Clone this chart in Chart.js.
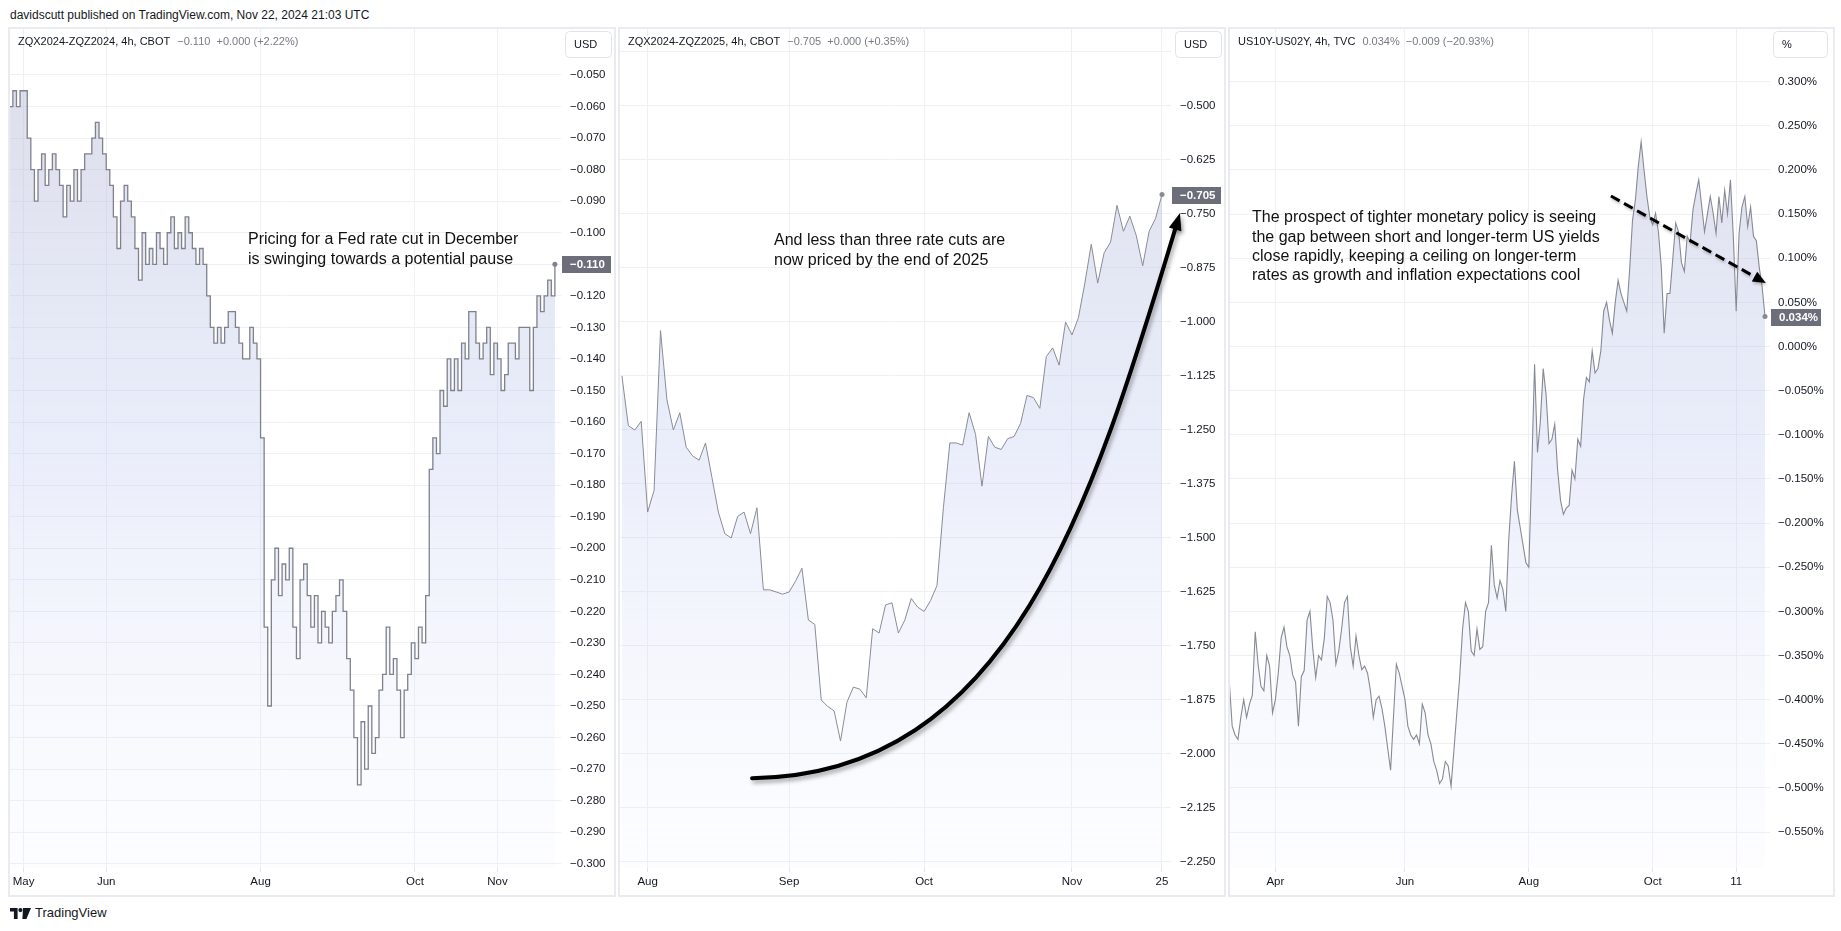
<!DOCTYPE html>
<html>
<head>
<meta charset="utf-8">
<script src="https://cdn.jsdelivr.net/npm/chart.js@4.4.1/dist/chart.umd.min.js"></script>
<style>
  body { margin: 0; background: #fff; width: 1841px; height: 931px; position: relative; overflow: hidden;
         font-family: "Liberation Sans", Arial, sans-serif; color: #131722; }
  #byline { position: absolute; left: 10px; top: 8px; font-size: 12px; line-height: 14px; }
  .pane { position: absolute; top: 27px; border: 2px solid #e9ebf0; }
  .pane canvas { display: block; }
  #logo { position: absolute; left: 10px; top: 905px; display: flex; align-items: center; gap: 4px;
          font-size: 13px; line-height: 16px; }
</style>
</head>
<body>
<div id="byline">davidscutt published on TradingView.com, Nov 22, 2024 21:03 UTC</div>

<div class="pane" style="left:8px"><canvas id="pane1" width="604" height="866"></canvas></div>
<div class="pane" style="left:618px"><canvas id="pane2" width="604" height="866"></canvas></div>
<div class="pane" style="left:1228px"><canvas id="pane3" width="603" height="866"></canvas></div>

<div id="logo">
  <svg width="21" height="11" viewBox="0 0 21 11">
    <path d="M0 0h7.6v11H3.9V3.6H0z" fill="#131722"/>
    <circle cx="10.4" cy="2.1" r="2.1" fill="#131722"/>
    <path d="M13 0h8l-4.6 11h-4z" fill="#131722"/>
  </svg>
  <span>TradingView</span>
</div>

<script>
const FONT = '"Liberation Sans", Arial, sans-serif';
const textColor = '#131722';
const gridColor = '#eef0f4';

// ZQX2024-ZQZ2024, one value per trading day (late Apr .. Nov 22)
const p1Values = [
  -0.060, -0.055, -0.060, -0.055, -0.055, -0.070, -0.080, -0.090, -0.080, -0.075,
  -0.085, -0.080, -0.075, -0.080, -0.085, -0.095, -0.085, -0.090, -0.080, -0.090,
  -0.080, -0.075, -0.075, -0.070, -0.065, -0.070, -0.075, -0.080, -0.085, -0.095,
  -0.105, -0.090, -0.085, -0.090, -0.095, -0.105, -0.115, -0.100, -0.110, -0.105,
  -0.110, -0.100, -0.105, -0.110, -0.100, -0.095, -0.105, -0.100, -0.105, -0.095,
  -0.100, -0.105, -0.110, -0.105, -0.110, -0.120, -0.130, -0.135, -0.130, -0.135,
  -0.130, -0.125, -0.125, -0.130, -0.135, -0.140, -0.140, -0.130, -0.135, -0.140,
  -0.165, -0.225, -0.250, -0.210, -0.200, -0.215, -0.205, -0.210, -0.200, -0.225,
  -0.235, -0.210, -0.205, -0.215, -0.225, -0.215, -0.230, -0.220, -0.225, -0.230,
  -0.220, -0.215, -0.210, -0.220, -0.235, -0.245, -0.260, -0.275, -0.255, -0.270,
  -0.250, -0.265, -0.260, -0.245, -0.240, -0.225, -0.240, -0.235, -0.245, -0.260,
  -0.245, -0.240, -0.230, -0.235, -0.225, -0.230, -0.215, -0.175, -0.165, -0.170,
  -0.150, -0.155, -0.140, -0.150, -0.140, -0.150, -0.135, -0.140, -0.125, -0.125,
  -0.135, -0.140, -0.135, -0.130, -0.145, -0.135, -0.140, -0.150, -0.145, -0.135,
  -0.135, -0.140, -0.130, -0.130, -0.130, -0.150, -0.130, -0.120, -0.125, -0.120,
  -0.115, -0.120, -0.110
];
const p1TickText = ['May', 'Jun', 'Aug', 'Oct', 'Nov'];
const p1TickAt = [4, 27, 70, 113, 136];
const p1YTicks = [-0.050, -0.060, -0.070, -0.080, -0.090, -0.100, -0.110, -0.120, -0.130, -0.140,
  -0.150, -0.160, -0.170, -0.180, -0.190, -0.200, -0.210, -0.220, -0.230, -0.240,
  -0.250, -0.260, -0.270, -0.280, -0.290, -0.300];

// ZQX2024-ZQZ2025, one value per trading day (late Jul .. Nov 22)
const p2Values = [
  -1.125, -1.240, -1.250, -1.230, -1.440, -1.390, -1.020, -1.180, -1.250, -1.210,
  -1.290, -1.310, -1.320, -1.280, -1.360, -1.440, -1.490, -1.500, -1.450, -1.440,
  -1.490, -1.430, -1.620, -1.620, -1.625, -1.630, -1.625, -1.600, -1.570, -1.690,
  -1.700, -1.875, -1.890, -1.900, -1.970, -1.880, -1.845, -1.850, -1.870, -1.710,
  -1.720, -1.655, -1.650, -1.720, -1.690, -1.640, -1.660, -1.670, -1.645, -1.610,
  -1.430, -1.280, -1.280, -1.285, -1.210, -1.260, -1.380, -1.265, -1.290, -1.295,
  -1.270, -1.265, -1.235, -1.170, -1.175, -1.200, -1.080, -1.060, -1.100, -1.000,
  -1.030, -0.990, -0.910, -0.820, -0.910, -0.840, -0.815, -0.730, -0.790, -0.755,
  -0.800, -0.870, -0.790, -0.760, -0.705
];
const p2TickText = ['Aug', 'Sep', 'Oct', 'Nov', '25'];
const p2TickAt = [4, 26, 47, 70, 84];
const p2YTicks = [-0.375, -0.500, -0.625, -0.750, -0.875, -1.000, -1.125, -1.250, -1.375, -1.500,
  -1.625, -1.750, -1.875, -2.000, -2.125, -2.250];
const p2GridOnly = [-0.375];

// US10Y-US02Y, one value per trading day (early Mar .. Nov 22)
const p3Values = [
  -0.380, -0.430, -0.440, -0.445, -0.420, -0.400, -0.420, -0.405, -0.395, -0.323,
  -0.360, -0.385, -0.390, -0.350, -0.362, -0.415, -0.400, -0.370, -0.330, -0.318,
  -0.340, -0.350, -0.372, -0.380, -0.430, -0.374, -0.367, -0.310, -0.300, -0.343,
  -0.375, -0.350, -0.355, -0.330, -0.283, -0.290, -0.310, -0.360, -0.345, -0.320,
  -0.290, -0.283, -0.340, -0.362, -0.328, -0.350, -0.366, -0.362, -0.370, -0.390,
  -0.420, -0.400, -0.396, -0.410, -0.430, -0.455, -0.480, -0.420, -0.360, -0.370,
  -0.385, -0.400, -0.430, -0.440, -0.445, -0.440, -0.450, -0.405, -0.415, -0.440,
  -0.450, -0.470, -0.480, -0.495, -0.490, -0.470, -0.475, -0.498, -0.457, -0.415,
  -0.374, -0.320, -0.290, -0.300, -0.345, -0.350, -0.320, -0.343, -0.340, -0.300,
  -0.290, -0.225, -0.270, -0.285, -0.265, -0.275, -0.300, -0.220, -0.170, -0.130,
  -0.185, -0.205, -0.225, -0.245, -0.250, -0.140, -0.020, -0.120, -0.085, -0.025,
  -0.055, -0.110, -0.105, -0.088, -0.140, -0.174, -0.190, -0.183, -0.180, -0.140,
  -0.150, -0.105, -0.113, -0.060, -0.035, -0.040, -0.005, -0.030, -0.025, -0.005,
  0.040, 0.050, 0.030, 0.015, 0.050, 0.075, 0.060, 0.050, 0.040, 0.087,
  0.143, 0.166, 0.204, 0.232, 0.200, 0.170, 0.147, 0.138, 0.151, 0.130,
  0.090, 0.015, 0.060, 0.060, 0.100, 0.140, 0.130, 0.095, 0.085, 0.125,
  0.118, 0.155, 0.173, 0.189, 0.160, 0.130, 0.150, 0.170, 0.151, 0.128,
  0.170, 0.140, 0.177, 0.150, 0.189, 0.125, 0.040, 0.128, 0.158, 0.170,
  0.136, 0.158, 0.125, 0.120, 0.090, 0.068, 0.034
];
const p3TickText = ['Apr', 'Jun', 'Aug', 'Oct', '11'];
const p3TickAt = [16, 61, 104, 147, 176];
const p3YTicks = [0.300, 0.250, 0.200, 0.150, 0.100, 0.050, 0.000, -0.050, -0.100, -0.150,
  -0.200, -0.250, -0.300, -0.350, -0.400, -0.450, -0.500, -0.550];

// hand drawn arrows, in data units (bar index, value)
const p2CurveArrow = [[20.24, -2.056], [60.4, -2.049], [73.6, -1.40], [86.8, -0.748]];
const p3DashArrow = [[132.5, 0.1705], [186.3, 0.072]];

function fmt(v, pct) {
  const s = (v < -1e-9 ? '\u2212' : '') + Math.abs(v).toFixed(3);
  return pct ? s + '%' : s;
}

function areaFill(context) {
  const chart = context.chart;
  const area = chart.chartArea;
  if (!area) return 'rgba(0,0,0,0)';
  const g = chart.ctx.createLinearGradient(0, area.top, 0, area.bottom);
  g.addColorStop(0, 'rgba(176,180,204,0.46)');
  g.addColorStop(0.5, 'rgba(190,200,240,0.33)');
  g.addColorStop(1, 'rgba(235,238,255,0.12)');
  return g;
}

function arrowHead(ctx, from, tip, len, half) {
  const dx = tip[0] - from[0], dy = tip[1] - from[1];
  const d = Math.hypot(dx, dy);
  const ux = dx / d, uy = dy / d;
  const bx = tip[0] - ux * len, by = tip[1] - uy * len;
  ctx.beginPath();
  ctx.moveTo(tip[0], tip[1]);
  ctx.lineTo(bx - uy * half, by + ux * half);
  ctx.lineTo(bx + uy * half, by - ux * half);
  ctx.closePath();
  ctx.fill();
}

function makeOverlay(cfg) {
  return {
    id: 'tvOverlay',
    afterDraw(chart) {
      const { ctx, chartArea: ca } = chart;
      const xs = chart.scales.x, ys = chart.scales.y;
      const px = ([a, b]) => [xs.getPixelForValue(a), ys.getPixelForValue(b)];
      ctx.save();
      ctx.textBaseline = 'middle';

      // symbol legend
      ctx.font = '11px ' + FONT;
      ctx.fillStyle = textColor;
      ctx.fillText(cfg.symbol, 8, 13);
      ctx.fillStyle = '#787b86';
      ctx.fillText(cfg.quote, 8 + ctx.measureText(cfg.symbol).width + 7, 13);

      // currency button
      const bx = ca.right + cfg.unitGap;
      ctx.strokeStyle = '#e0e3eb';
      ctx.lineWidth = 1;
      ctx.beginPath();
      ctx.roundRect(bx + 0.5, 2.5, cfg.unitW, 26, 4);
      ctx.stroke();
      ctx.fillStyle = textColor;
      ctx.font = '11px ' + FONT;
      ctx.fillText(cfg.unit, bx + 9, 15.5);

      // last value tag
      const last = cfg.values[cfg.values.length - 1];
      const yy = ys.getPixelForValue(last);
      ctx.fillStyle = '#6c6f7a';
      ctx.fillRect(ca.right + 1, Math.round(yy) - 8, cfg.tagW, 17);
      ctx.fillStyle = '#fff';
      ctx.font = 'bold 11.5px ' + FONT;
      ctx.fillText(fmt(last, cfg.pct), ca.right + 9, Math.round(yy) + 0.5);

      // annotation text
      ctx.fillStyle = '#111';
      ctx.font = '16px ' + FONT;
      cfg.note.forEach((line, k) => ctx.fillText(line, cfg.noteAt[0], cfg.noteAt[1] + k * 19.3));

      // curved arrow
      if (cfg.curve) {
        const p = cfg.curve.map(px);
        const dx = p[3][0] - p[2][0], dy = p[3][1] - p[2][1], d = Math.hypot(dx, dy);
        const end = [p[3][0] - dx / d * 12, p[3][1] - dy / d * 12];
        const c2 = [p[2][0] - dx / d * 12, p[2][1] - dy / d * 12];
        ctx.shadowColor = 'rgba(0,0,0,0.35)';
        ctx.shadowBlur = 4;
        ctx.shadowOffsetX = 2;
        ctx.shadowOffsetY = 3;
        ctx.strokeStyle = '#000';
        ctx.fillStyle = '#000';
        ctx.lineWidth = 4;
        ctx.lineCap = 'round';
        ctx.beginPath();
        ctx.moveTo(p[0][0], p[0][1]);
        ctx.bezierCurveTo(p[1][0], p[1][1], c2[0], c2[1], end[0], end[1]);
        ctx.stroke();
        arrowHead(ctx, p[2], p[3], 17, 6.5);
      }

      // dashed arrow
      if (cfg.dash) {
        const [a, b] = cfg.dash.map(px);
        const dx = b[0] - a[0], dy = b[1] - a[1], d = Math.hypot(dx, dy);
        ctx.shadowColor = 'rgba(0,0,0,0.25)';
        ctx.shadowBlur = 3;
        ctx.shadowOffsetX = 1;
        ctx.shadowOffsetY = 2;
        ctx.strokeStyle = '#000';
        ctx.fillStyle = '#000';
        ctx.lineWidth = 3;
        ctx.setLineDash([10, 5]);
        ctx.beginPath();
        ctx.moveTo(a[0], a[1]);
        ctx.lineTo(b[0] - dx / d * 10, b[1] - dy / d * 10);
        ctx.stroke();
        ctx.setLineDash([]);
        arrowHead(ctx, a, b, 13, 5.5);
      }
      ctx.restore();
    }
  };
}

function makePane(id, cfg) {
  const n = cfg.values.length;
  new Chart(document.getElementById(id), {
    type: 'line',
    data: {
      datasets: [{
        data: cfg.values.map((v, i) => ({ x: i, y: v })),
        borderColor: cfg.lineColor,
        borderWidth: cfg.lineWidth,
        stepped: cfg.stepped,
        tension: 0,
        fill: 'start',
        backgroundColor: areaFill,
        pointRadius: c => (c.dataIndex === n - 1 ? 2.5 : 0),
        pointBackgroundColor: cfg.lineColor,
        pointBorderWidth: 0,
        pointHoverRadius: 0
      }]
    },
    options: {
      responsive: false,
      animation: false,
      events: [],
      layout: { padding: 0, autoPadding: false },
      plugins: { legend: { display: false }, tooltip: { enabled: false } },
      scales: {
        x: {
          type: 'linear',
          bounds: 'data',
          min: cfg.xRange[0],
          max: cfg.xRange[1],
          afterBuildTicks: s => { s.ticks = cfg.tickAt.map(v => ({ value: v })); },
          afterFit: s => { s.height = 27; s.paddingLeft = 0; s.paddingRight = 0; },
          ticks: {
            autoSkip: false,
            maxRotation: 0,
            padding: 3,
            color: textColor,
            font: { family: FONT, size: 11.5 },
            callback: (v, i) => cfg.tickText[i]
          },
          grid: { color: gridColor, tickColor: '#e0e3eb', tickLength: 4 },
          border: { display: false }
        },
        y: {
          type: 'linear',
          position: 'right',
          bounds: 'data',
          min: cfg.yRange[0],
          max: cfg.yRange[1],
          afterBuildTicks: s => { s.ticks = cfg.yTicks.map(v => ({ value: v })); },
          afterFit: s => { s.width = cfg.axisW; s.paddingTop = 0; s.paddingBottom = 0; },
          ticks: {
            autoSkip: false,
            padding: cfg.labelPad,
            color: textColor,
            font: { family: FONT, size: 11.5 },
            callback: v => ((cfg.gridOnly || []).includes(v) ? '' : fmt(v, cfg.pct))
          },
          grid: { color: gridColor, drawTicks: false },
          border: { display: false }
        }
      }
    },
    plugins: [makeOverlay(cfg)]
  });
}

makePane('pane1', {
  values: p1Values, tickText: p1TickText, tickAt: p1TickAt, yTicks: p1YTicks,
  xRange: [0.2, 153.7], yRange: [-0.30135, -0.03542],
  lineColor: '#7f828c', lineWidth: 1.3, stepped: true,
  axisW: 53, labelPad: 9, pct: false,
  symbol: 'ZQX2024-ZQZ2024, 4h, CBOT', quote: '\u22120.110  +0.000 (+2.22%)',
  unit: 'USD', unitGap: 4, unitW: 46, tagW: 49,
  note: ['Pricing for a Fed rate cut in December', 'is swinging towards a potential pause'],
  noteAt: [238, 211]
});

makePane('pane2', {
  values: p2Values, tickText: p2TickText, tickAt: p2TickAt, yTicks: p2YTicks, gridOnly: p2GridOnly,
  xRange: [-0.3, 85.4], yRange: [-2.2639, -0.3218],
  lineColor: '#898c96', lineWidth: 1, stepped: false,
  axisW: 53, labelPad: 9, pct: false,
  symbol: 'ZQX2024-ZQZ2025, 4h, CBOT', quote: '\u22120.705  +0.000 (+0.35%)',
  unit: 'USD', unitGap: 4, unitW: 46, tagW: 49,
  note: ['And less than three rate cuts are', 'now priced by the end of 2025'],
  noteAt: [154, 212],
  curve: p2CurveArrow
});

makePane('pane3', {
  values: p3Values, tickText: p3TickText, tickAt: p3TickAt, yTicks: p3YTicks,
  xRange: [0.24, 187.74], yRange: [-0.5907, 0.3597],
  lineColor: '#878a94', lineWidth: 1.1, stepped: false,
  axisW: 63, labelPad: 8, pct: true,
  symbol: 'US10Y-US02Y, 4h, TVC', quote: '0.034%  \u22120.009 (\u221220.93%)',
  unit: '%', unitGap: 3, unitW: 54, tagW: 50,
  note: ['The prospect of tighter monetary policy is seeing',
         'the gap between short and longer-term US yields',
         'close rapidly, keeping a ceiling on longer-term',
         'rates as growth and inflation expectations cool'],
  noteAt: [22, 189],
  dash: p3DashArrow
});
</script>
</body>
</html>
